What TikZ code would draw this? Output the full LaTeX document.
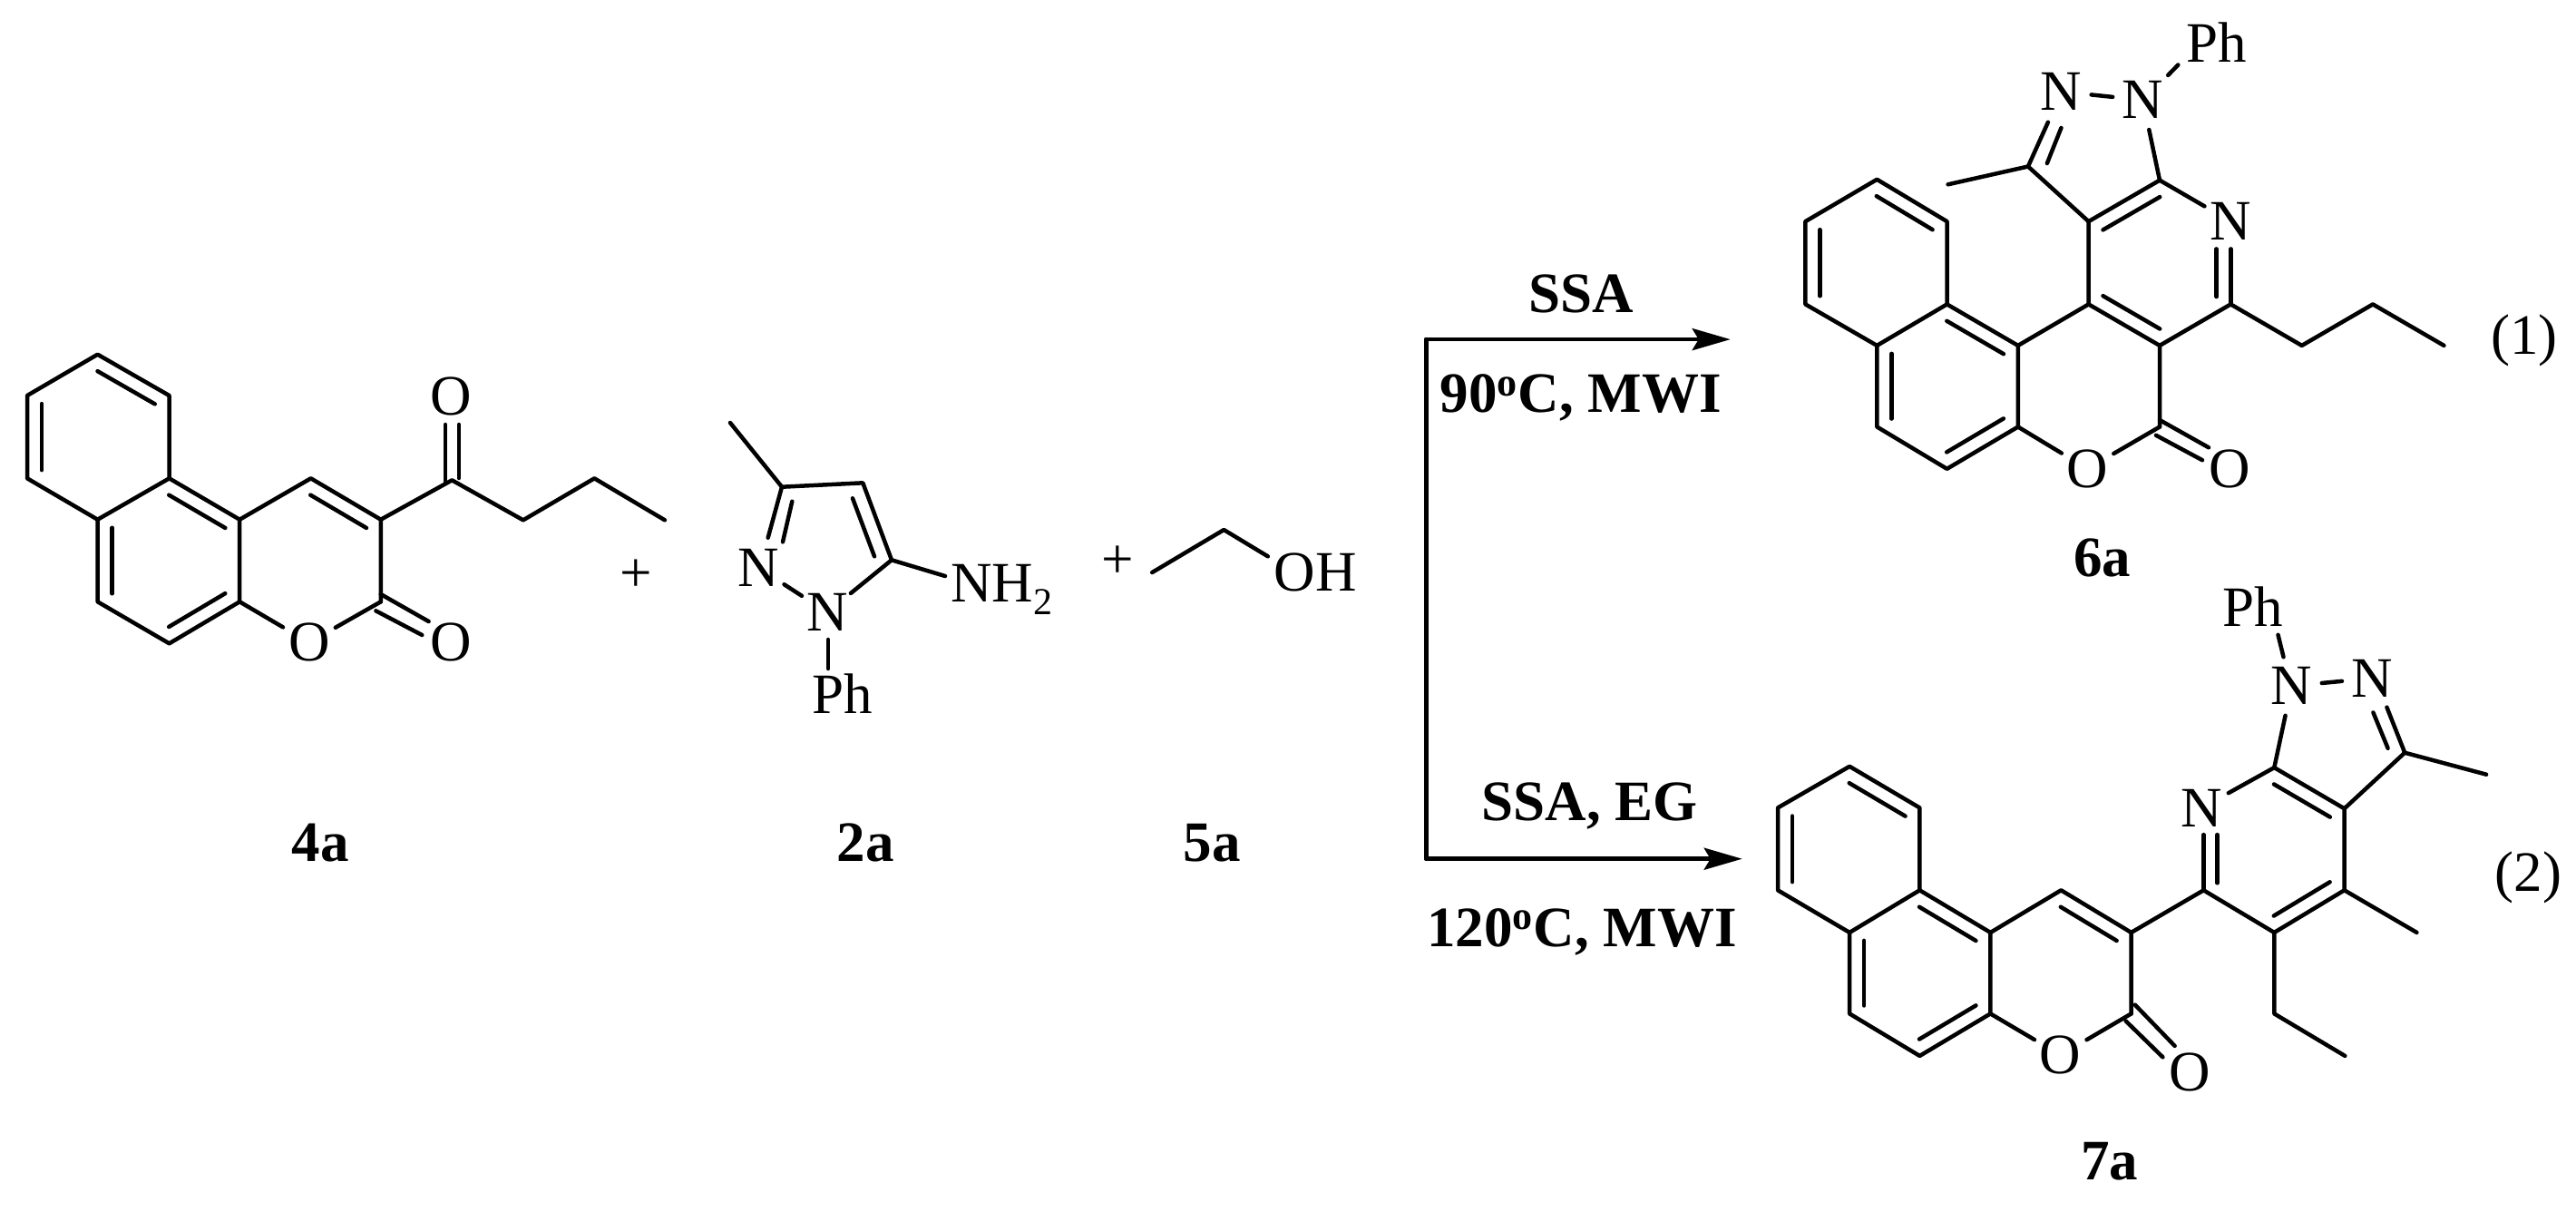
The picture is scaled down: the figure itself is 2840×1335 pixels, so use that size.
\documentclass[tikz,border=0pt]{standalone}
\usepackage{fontspec}
\setmainfont{Liberation Serif}
\usetikzlibrary{calc,arrows.meta}
\newcommand{\ibr}[2]{\draw[bond] ($(#1)!.1!(#2)!8pt!-90:(#2)$) -- ($(#2)!.1!(#1)!8pt!90:(#1)$);}
\newcommand{\ibl}[2]{\draw[bond] ($(#1)!.1!(#2)!8pt!90:(#2)$) -- ($(#2)!.1!(#1)!8pt!-90:(#1)$);}
\newcommand{\cc}[2]{\coordinate (#1) at (#2);}
\tikzset{
  bond/.style={line width=2.25pt,line cap=round,line join=round,black},
  rxn/.style={line width=2.3pt,line cap=round,line join=round,black},
  rxnhead/.style={rxn,-{Stealth[length=21pt,width=12pt,inset=3.5pt]}},
  atom/.style={circle,inner sep=0pt,minimum size=33pt,font=\fontsize{31.5}{36}\selectfont},
  lab/.style={inner sep=0pt,font=\fontsize{31.5}{36}\selectfont},
  cond/.style={inner sep=0pt,anchor=base,font=\fontsize{31.5}{36}\selectfont\bfseries},
}
\begin{document}
\begin{tikzpicture}[x=0.5pt,y=-0.5pt]
\path[fill=white,use as bounding box] (0,0) rectangle (2840,1335);

% ---------- 4a ----------
\cc{pa1}{107.6,390.7}\cc{pa2}{186.6,436}\cc{pa3}{186.6,527.3}\cc{pa4}{107.6,572.7}\cc{pa5}{30,527.3}\cc{pa6}{30,436}
\cc{pb1}{107.6,663.3}\cc{pb2}{186.6,709.3}\cc{pb3}{264.2,663.3}\cc{pb4}{264.2,572.7}
\cc{pc1}{342.7,527.3}\cc{pc2}{419.8,572.7}\cc{pc3}{419.8,663.3}
\cc{pk}{498.3,529.3}\cc{pe1}{576.8,573.3}\cc{pe2}{655.3,527.3}\cc{pe3}{732.9,573.3}
\node[atom] (pO1) at (340.8,708.3) {O};
\node[atom] (pO2) at (496.8,708.3) {O};
\node[atom] (pO3) at (496.8,437.3) {O};
\draw[bond] (pa1)--(pa2)--(pa3)--(pa4)--(pa5)--(pa6)--cycle;
\draw[bond] (pa4)--(pb1)--(pb2)--(pb3)--(pb4)--(pa3);
\draw[bond] (pb4)--(pc1)--(pc2)--(pc3);
\draw[bond] (pc2)--(pk)--(pe1)--(pe2)--(pe3);
\draw[bond] (pb3)--(pO1)--(pc3);
\ibr{pa1}{pa2}\ibr{pa5}{pa6}\ibr{pa3}{pb4}\ibl{pa4}{pb1}\ibr{pb3}{pb2}\ibr{pc1}{pc2}
\cc{pd1}{419.8,655}\cc{pd2}{472.6,685}\cc{pd3}{414.4,673.3}\cc{pd4}{465.3,700}
\draw[bond] (pd1)--(pd2);\draw[bond] (pd3)--(pd4);
\cc{pf1}{491,531}\cc{pf2}{491,468}\cc{pf3}{506,527}\cc{pf4}{506,468}
\draw[bond] (pf1)--(pf2);\draw[bond] (pf3)--(pf4);
\node[lab] (plus1) at (701.4,635) {+};
\node[lab,font=\fontsize{31.5}{36}\selectfont\bfseries] (l4a) at (353,929) {4a};

% ---------- 2a ----------
\cc{qm}{805,466}\cc{qc3}{862,536.7}\cc{qc4}{951.3,532.3}\cc{qc5}{983,617.3}
\node[atom] (qN1) at (836.5,626) {N};
\node[atom] (qN2) at (912,675) {N};
\node[lab] (qPh) at (929,765) {Ph};
\node[lab,anchor=base west] (qNH) at (1048,663.3) {NH\raisebox{-.22em}{\fontsize{21}{24}\selectfont 2}};
\draw[bond] (qm)--(qc3)--(qc4)--(qc5);
\cc{qa1}{846.7,592.7}\cc{qa2}{873.3,552.7}\cc{qa3}{863,597.3}\cc{qa4}{940,549.3}\cc{qa5}{964,613.3}
\draw[bond] (qc3)--(qa1);\draw[bond] (qa2)--(qa3);\draw[bond] (qa4)--(qa5);
\draw[bond] (qN1)--(qN2);\draw[bond] (qN2)--(qc5);
\cc{qb1}{1042,635}\draw[bond] (qc5)--(qb1);
\cc{qp1}{913,705}\cc{qp2}{913,737}\draw[bond] (qp1)--(qp2);
\node[lab] (plus2) at (1232,620) {+};
\node[lab,font=\fontsize{31.5}{36}\selectfont\bfseries] (l2a) at (954,929) {2a};

% ---------- 5a ----------
\cc{ra}{1270.2,631}\cc{rb}{1349.3,584}\cc{rc}{1397.8,613.3}
\node[lab] (rOH) at (1450,631) {OH};
\draw[bond] (ra)--(rb)--(rc);
\node[lab,font=\fontsize{31.5}{36}\selectfont\bfseries] (l5a) at (1336,929) {5a};

% ---------- arrows ----------
\cc{vt}{1572.3,374.1}\cc{vb}{1572.3,946.7}\cc{t1}{1907.7,374.1}\cc{t2}{1920.7,946.7}
\draw[rxn] (vt)--(vb);
\draw[rxnhead] (vt)--(t1);
\draw[rxnhead] (vb)--(t2);
\node[cond] (c1) at (1743,344.3) {SSA};
\node[cond] (c2) at (1742.5,454.5) {90\textsuperscript{o}C, MWI};
\node[cond] (c3) at (1752.5,904.4) {SSA, EG};
\node[cond] (c4) at (1744,1043) {120\textsuperscript{o}C, MWI};

% ---------- 6a ----------
\cc{sa1}{2069.3,197.8}\cc{sa2}{2146.5,244.1}\cc{sa3}{2146.5,335.4}\cc{sa4}{2069.3,380.9}\cc{sa5}{1990.4,335.4}\cc{sa6}{1990.4,244.1}
\cc{sb1}{2069.3,470.5}\cc{sb2}{2146.5,516.8}\cc{sb3}{2224.8,470.5}\cc{sb4}{2224.8,380.9}
\cc{sc1}{2302.6,335.4}\cc{sc2}{2381,380.9}\cc{sc3}{2381,470.5}
\cc{sd1}{2302.6,244.1}\cc{sd2}{2381,198.7}\cc{sd3}{2459.3,335.4}
\cc{se1}{2235.9,183.5}\cc{sm}{2147.6,203.3}
\cc{sp1}{2537.7,380.9}\cc{sp2}{2616,335.4}\cc{sp3}{2694.4,380.9}
\node[atom] (sO1) at (2301.4,516.8) {O};
\node[atom] (sO2) at (2458.2,516.8) {O};
\node[atom] (sN) at (2459.3,244.1) {N};
\node[atom] (sN1) at (2272.4,101) {N};
\node[atom] (sN2) at (2362.4,110.3) {N};
\node[lab] (sPh) at (2443.6,46.3) {Ph};
\draw[bond] (sa1)--(sa2)--(sa3)--(sa4)--(sa5)--(sa6)--cycle;
\draw[bond] (sa4)--(sb1)--(sb2)--(sb3)--(sb4)--(sa3);
\draw[bond] (sb4)--(sc1)--(sc2)--(sc3);
\draw[bond] (sb3)--(sO1)--(sc3);
\draw[bond] (sc1)--(sd1)--(sd2);
\draw[bond] (sd2)--(sN);
\draw[bond] (sc2)--(sd3)--(sp1)--(sp2)--(sp3);
\draw[bond] (sd1)--(se1)--(sm);
\draw[bond] (sN1)--(sN2);
\draw[bond] (sd2)--(sN2);
\ibr{sa1}{sa2}\ibr{sa5}{sa6}\ibr{sa3}{sb4}\ibl{sa4}{sb1}\ibr{sb3}{sb2}\ibr{sd1}{sd2}\ibl{sc1}{sc2}
\cc{sf1}{2459.3,274.4}\draw[bond] (sd3)--(sf1);
\cc{sf2}{2443.6,327}\cc{sf3}{2443.6,274.4}\draw[bond] (sf2)--(sf3);
\cc{sg1}{2257.9,134.7}\draw[bond] (se1)--(sg1);
\cc{sg2}{2256.8,180.1}\cc{sg3}{2272.4,141}\draw[bond] (sg2)--(sg3);
\cc{sh1}{2381,463}\cc{sh2}{2435,493.3}\cc{sh3}{2376.9,479.8}\cc{sh4}{2428,507.2}
\draw[bond] (sh1)--(sh2);\draw[bond] (sh3)--(sh4);
\cc{si1}{2390.2,82.9}\cc{si2}{2401.3,71.5}\draw[bond] (si1)--(si2);
\node[lab] (n1) at (2783.2,375.4) {(1)};
\node[lab,font=\fontsize{31.5}{36}\selectfont\bfseries] (l6a) at (2317.7,615) {6a};

% ---------- 7a ----------
\cc{ta1}{2039.1,844.8}\cc{ta2}{2116.4,890.4}\cc{ta3}{2116.4,981.3}\cc{ta4}{2039.1,1027.9}\cc{ta5}{1960,981.3}\cc{ta6}{1960,890.4}
\cc{tb1}{2039.1,1117.4}\cc{tb2}{2116.4,1163.9}\cc{tb3}{2194.4,1117.4}\cc{tb4}{2194.4,1027.9}
\cc{tc1}{2272.3,981.3}\cc{tc2}{2349.6,1027.9}\cc{tc3}{2349.6,1117.4}
\cc{td1}{2429.4,981.3}\cc{td2}{2507.3,846.1}\cc{td3}{2584.6,891.3}\cc{td4}{2584.6,981.3}\cc{td5}{2507.3,1027.9}
\cc{te}{2651.2,829.7}\cc{tm1}{2741.1,853.7}\cc{tm2}{2664.4,1027.9}\cc{tt1}{2507.3,1117.4}\cc{tt2}{2585.3,1163.9}
\node[atom] (tO1) at (2271.7,1163) {O};
\node[atom] (tO2) at (2413.8,1181.7) {O};
\node[atom] (tN) at (2427.6,890.4) {N};
\node[atom] (tN2) at (2526.5,756.1) {N};
\node[atom] (tN3) at (2615.2,747.7) {N};
\node[lab] (tPh) at (2483.3,668.8) {Ph};
\draw[bond] (ta1)--(ta2)--(ta3)--(ta4)--(ta5)--(ta6)--cycle;
\draw[bond] (ta4)--(tb1)--(tb2)--(tb3)--(tb4)--(ta3);
\draw[bond] (tb4)--(tc1)--(tc2)--(tc3);
\draw[bond] (tb3)--(tO1)--(tc3);
\draw[bond] (tc2)--(td1)--(td5)--(td4)--(td3)--(td2);
\draw[bond] (td2)--(tN);
\draw[bond] (td3)--(te)--(tm1);
\draw[bond] (td4)--(tm2);
\draw[bond] (td5)--(tt1)--(tt2);
\draw[bond] (td2)--(tN2);
\draw[bond] (tN2)--(tN3);
\ibr{ta1}{ta2}\ibr{ta5}{ta6}\ibr{ta3}{tb4}\ibl{ta4}{tb1}\ibr{tb3}{tb2}\ibr{tc1}{tc2}\ibr{td2}{td3}\ibr{td4}{td5}
\cc{tf1}{2429.4,920.1}\draw[bond] (td1)--(tf1);
\cc{tf2}{2444.4,973.3}\cc{tf3}{2444.4,920.1}\draw[bond] (tf2)--(tf3);
\cc{tg1}{2631.4,779.6}\draw[bond] (te)--(tg1);
\cc{tg2}{2632.6,824.8}\cc{tg3}{2616.4,785.4}\draw[bond] (tg2)--(tg3);
\cc{th1}{2353.8,1107.6}\cc{th2}{2397.6,1152.9}\cc{th3}{2343.6,1125.4}\cc{th4}{2384.4,1165.3}
\draw[bond] (th1)--(th2);\draw[bond] (th3)--(th4);
\cc{ti1}{2511.5,699.8}\cc{ti2}{2517.5,724.2}\draw[bond] (ti1)--(ti2);
\node[lab] (n2) at (2787.3,967.1) {(2)};
\node[lab,font=\fontsize{31.5}{36}\selectfont\bfseries] (l7a) at (2325.7,1280.5) {7a};
\end{tikzpicture}
\end{document}
